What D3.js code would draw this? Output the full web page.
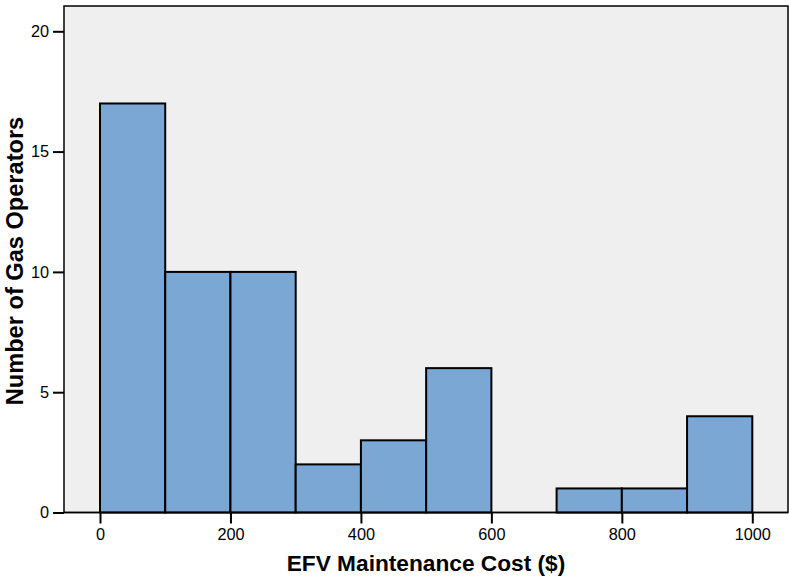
<!DOCTYPE html>
<html><head><meta charset="utf-8">
<script src="https://cdn.jsdelivr.net/npm/d3@7"></script>
<style>body{margin:0;background:#fff;}svg{display:block;font-family:Arial,"Liberation Sans",sans-serif;}</style>
</head><body><svg id="c" width="789" height="578"></svg>
<script>
const binStarts = [0,100,200,300,400,500,600,700,800,900];
const binWidth = 100;
const counts = [17,10,10,2,3,6,0,1,1,4];
const xTicks = [0,200,400,600,800,1000];
const yTicks = [0,5,10,15,20];
const xTitle = "EFV Maintenance Cost ($)";
const yTitle = "Number of Gas Operators";

const svg = d3.select("#c");
const L=64, R=788, T=6, B=512.5;
const x = d3.scaleLinear().domain([0,1000]).range([100,752.3]);
const y = d3.scaleLinear().domain([0,20]).range([B,31.3]);

svg.append("rect").attr("x",L).attr("y",T).attr("width",R-L).attr("height",B-T)
  .attr("fill","#efefef").attr("stroke","#000").attr("stroke-width",1.5);

const data = binStarts.map((s,i)=>({s,c:counts[i]})).filter(d=>d.c>0);
svg.append("g").selectAll("rect").data(data).join("rect")
  .attr("x",d=>x(d.s)).attr("width",d=>x(d.s+binWidth)-x(d.s))
  .attr("y",d=>y(d.c)).attr("height",d=>y(0)-y(d.c))
  .attr("fill","#7ba7d4").attr("stroke","#000").attr("stroke-width",2);

const yAxis = svg.append("g").attr("transform",`translate(${L},0)`)
  .call(d3.axisLeft(y).tickValues(yTicks).tickSize(11).tickPadding(4).tickFormat(d3.format("d")));
const xAxis = svg.append("g").attr("transform",`translate(0,${B})`)
  .call(d3.axisBottom(x).tickValues(xTicks).tickSize(11).tickPadding(4.5).tickFormat(d3.format("d")));
[yAxis,xAxis].forEach(a=>{
  a.select(".domain").remove();
  a.selectAll("line").attr("stroke","#000").attr("stroke-width",2);
  a.selectAll("text").attr("font-size",16.3).attr("fill","#000").attr("font-family","Arial,'Liberation Sans',sans-serif");
});
svg.append("line").attr("x1",L).attr("x2",R).attr("y1",B).attr("y2",B).attr("stroke","#000").attr("stroke-width",1.5);

svg.append("text").attr("x",(L+R)/2).attr("y",571).attr("text-anchor","middle")
  .attr("font-size",22.7).attr("font-weight","bold").text(xTitle);
svg.append("text").attr("transform",`translate(23,261) rotate(-90)`).attr("text-anchor","middle")
  .attr("font-size",23.6).attr("font-weight","bold").text(yTitle);
</script></body></html>
